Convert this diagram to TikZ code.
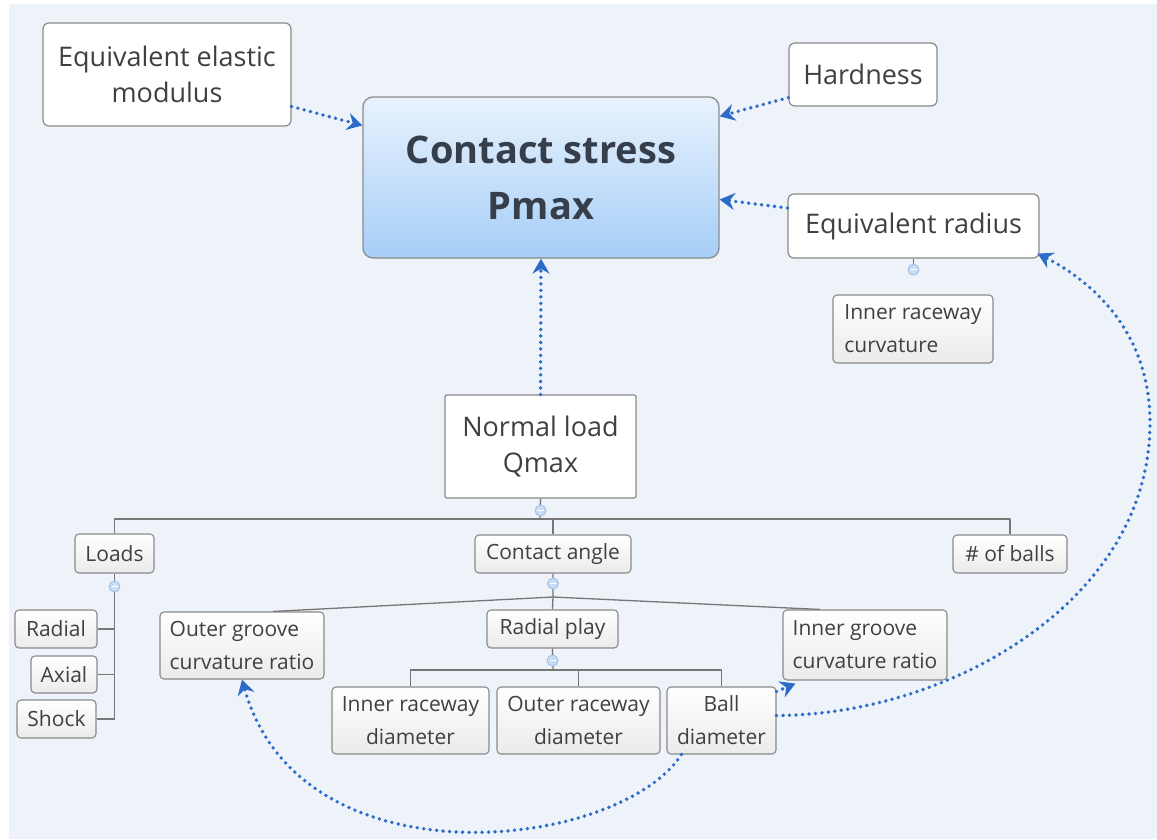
\documentclass[tikz,border=0pt]{standalone}
\usepackage{fontspec}
\setmainfont{Open Sans}
\usetikzlibrary{arrows.meta}

\definecolor{bgblue}{HTML}{EEF2F9}
\definecolor{boxedge}{HTML}{8A8A8A}
\definecolor{txtgray}{HTML}{404040}
\definecolor{stresstxt}{HTML}{353E4A}
\definecolor{linkblue}{HTML}{2A6CC8}
\definecolor{stresstop}{HTML}{E8F2FD}
\definecolor{stressbot}{HTML}{A6CEF7}
\definecolor{foldfill}{HTML}{C9DDF5}
\definecolor{foldedge}{HTML}{9DBDE6}
\definecolor{branchgray}{HTML}{767676}

\newcommand\topicfont{\fontsize{27}{36}\selectfont}
\newcommand\subfont{\fontsize{21}{33}\selectfont}
\newcommand\stressfont{\fontsize{38}{56}\selectfont\bfseries}

\begin{document}
\begin{tikzpicture}[
    x=1pt,
    y=-1pt,
    line join=round,
    >={Stealth[length=15pt,width=17pt,inset=5pt]},
    topic/.style={draw=boxedge, fill=white, rounded corners=6pt, line width=1.2pt,
        text=txtgray, font=\topicfont, align=center, inner sep=0pt},
    sub/.style={draw=boxedge, top color=white, bottom color=black!8, rounded corners=4pt,
        line width=1.1pt, text=txtgray, font=\subfont, align=center, inner sep=0pt},
    central/.style={draw=black!45, top color=stresstop, bottom color=stressbot,
        rounded corners=10pt, line width=1.3pt, text=stresstxt, font=\stressfont,
        align=center, inner sep=0pt},
    size/.style 2 args={minimum width=#1pt, minimum height=#2pt},
    branch/.style={draw=branchgray, line width=1.3pt},
    link/.style={->, draw=linkblue, line width=3.8pt, line cap=round,
        dash pattern=on 0pt off 6.5pt},
    fold/.style={circle, draw=foldedge, fill=foldfill, line width=0.8pt,
        minimum size=11pt, inner sep=0pt,
        path picture={\draw[white, line width=1.2pt]
            ([xshift=-3pt]path picture bounding box.center) --
            ([xshift=3pt]path picture bounding box.center);}}
]
\useasboundingbox (0,0) rectangle (1157,839);
\fill[white] (0,0) rectangle (1157,839);
\fill[bgblue] (9,4) rectangle (1157,839);

% main topics
\node[central, size={356}{161}] (stress) at (541,177.5) {Contact stress\\Pmax};
\node[topic, size={248}{103}] (elastic) at (167,74.5) {Equivalent elastic\\modulus};
\node[topic, size={148}{63}] (hard) at (863,74.5) {Hardness};
\node[topic, size={251}{64}] (eqr) at (913.5,226) {Equivalent radius};
\node[topic, size={191}{103}, rounded corners=2pt] (normal) at (540.5,446.5) {Normal load\\Qmax};

% sub topics
\node[sub, size={160}{68}, align=left] (ircurv) at (913,329) {Inner raceway\\curvature};
\node[sub, size={79}{39}] (loads) at (114.5,553.5) {Loads};
\node[sub, size={156}{38}] (angle) at (553,554) {Contact angle};
\node[sub, size={114}{38}] (balls) at (1010,554) {\# of balls};
\node[sub, size={82}{38}] (radial) at (56,629) {Radial};
\node[sub, size={66}{37}] (axial) at (64,674.5) {Axial};
\node[sub, size={79}{38}] (shock) at (56.5,719) {Shock};
\node[sub, size={164}{67}, align=left] (ogroove) at (242,645.5) {Outer groove\\curvature ratio};
\node[sub, size={131}{38}] (play) at (552.5,629) {Radial play};
\node[sub, size={164}{70}, align=left] (igroove) at (865,645) {Inner groove\\curvature ratio};
\node[sub, size={157}{67}] (irdiam) at (410.5,720.5) {Inner raceway\\diameter};
\node[sub, size={163}{67}] (ordiam) at (578.5,720.5) {Outer raceway\\diameter};
\node[sub, size={109}{67}] (ball) at (721.5,720.5) {Ball\\diameter};

% tree lines
\coordinate (bus) at (540,519);
\coordinate (roof) at (553,597);
\coordinate (pbus) at (553,670);
\draw[branch] (normal.south) -- (bus);
\draw[branch] (loads.north) -- (loads.north |- bus) -- (balls.north |- bus) -- (balls.north);
\draw[branch] (angle.north) -- (angle.north |- bus);
\draw[branch] (loads.south) -- (loads.south |- shock.east);
\foreach \n in {radial,axial,shock}
    \draw[branch] (\n.east) -- (\n.east -| loads.south);
\draw[branch] (angle.south) -- (roof) -- (play.north);
\draw[branch] ([xshift=31pt]ogroove.north) -- (roof) -- ([xshift=-45pt]igroove.north);
\draw[branch] (play.south) -- (pbus);
\draw[branch] (irdiam.north) -- (irdiam.north |- pbus) -- (ball.north |- pbus) -- (ball.north);
\draw[branch] (ordiam.north) -- (ordiam.north |- pbus);
\draw[branch] (eqr.south) -- ([yshift=-8pt]eqr.south);

% fold marks
\node[fold] (fnormal) at ([yshift=-12pt]normal.south) {};
\node[fold] (floads) at ([yshift=-13pt]loads.south) {};
\node[fold] (fangle) at ([yshift=-10pt]angle.south) {};
\node[fold] (fplay) at ([yshift=-12pt]play.south) {};
\node[fold] (feqr) at ([yshift=-11pt]eqr.south) {};

% relations
\draw[link] ([yshift=-32pt]elastic.east) -- ([yshift=52pt]stress.west);
\draw[link] ([yshift=9pt]hard.south west) -- ([yshift=-20pt]stress.north east);
\draw[link] ([yshift=18pt]eqr.west) -- ([yshift=-22pt]stress.east);
\draw[link] (normal.north) -- (stress.south);
\draw[link] ([yshift=5pt]ball.east) .. controls (950,715) and (1152,600) .. (1150,420)
    .. controls (1149,330) and (1090,280) .. ([xshift=-2pt,yshift=5pt]eqr.south east);
\draw[link] ([xshift=15pt]ball.south west) .. controls (620,850) and (300,888) .. (ogroove.south);
\draw[link] ([yshift=-5pt]ball.north east) -- ([xshift=13pt,yshift=-3pt]igroove.south west);

\end{tikzpicture}
\end{document}
